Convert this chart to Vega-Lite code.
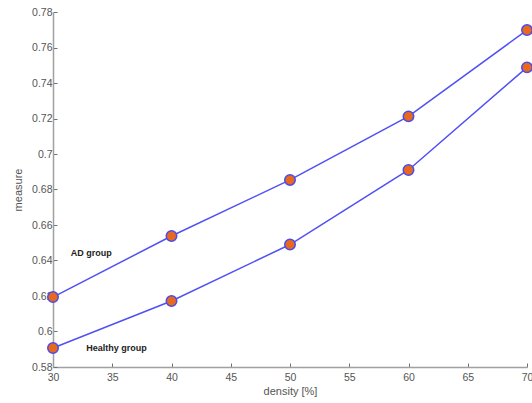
{
  "$schema": "https://vega.github.io/schema/vega-lite/v6.json",
  "width": 474,
  "height": 355,
  "autosize": {"type": "none"},
  "padding": {"left": 53, "top": 12, "right": 5, "bottom": 36},
  "background": "white",
  "config": {
    "view": {"stroke": null},
    "font": "Liberation Sans",
    "axis": {
      "domainColor": "#a0a0a0",
      "domainWidth": 1.5,
      "tickColor": "#707070",
      "tickSize": -4,
      "labelColor": "#555555",
      "labelFont": "Liberation Sans",
      "labelFontSize": 10.5,
      "labelOverlap": false,
      "titleFont": "Liberation Sans",
      "titleFontSize": 11,
      "titleFontWeight": "normal",
      "titleColor": "#555555",
      "grid": false
    },
    "axisQuantitative": {"labelOverlap": false}
  },
  "datasets": {
    "lines": [
      {"density": 30, "measure": 0.6194, "group": "AD group"},
      {"density": 40, "measure": 0.6538, "group": "AD group"},
      {"density": 50, "measure": 0.6854, "group": "AD group"},
      {"density": 60, "measure": 0.7212, "group": "AD group"},
      {"density": 70, "measure": 0.7698, "group": "AD group"},
      {"density": 30, "measure": 0.5907, "group": "Healthy group"},
      {"density": 40, "measure": 0.6172, "group": "Healthy group"},
      {"density": 50, "measure": 0.6490, "group": "Healthy group"},
      {"density": 60, "measure": 0.6910, "group": "Healthy group"},
      {"density": 70, "measure": 0.7488, "group": "Healthy group"}
    ],
    "labels": [
      {"density": 31.5, "measure": 0.6445, "label": "AD group"},
      {"density": 32.8, "measure": 0.5907, "label": "Healthy group"}
    ]
  },
  "data": {"name": "lines"},
  "encoding": {
    "x": {
      "field": "density", "type": "quantitative",
      "scale": {"domain": [30, 70], "nice": false},
      "axis": {"title": "density [%]", "values": [30, 35, 40, 45, 50, 55, 60, 65, 70], "labelPadding": 9, "titlePadding": 3, "labelFlush": false, "labelOverlap": false, "labelBound": false}
    },
    "y": {
      "field": "measure", "type": "quantitative",
      "scale": {"domain": [0.58, 0.78], "nice": false, "zero": false},
      "axis": {"title": "measure", "values": [0.58, 0.6, 0.62, 0.64, 0.66, 0.68, 0.7, 0.72, 0.74, 0.76, 0.78], "format": "~g", "labelPadding": 5, "titlePadding": 8, "labelFlush": false, "labelOverlap": false, "labelBound": false}
    }
  },
  "layer": [
    {
      "mark": {"type": "line", "color": "#5050F5", "strokeWidth": 1.5, "clip": false},
      "encoding": {"detail": {"field": "group"}}
    },
    {
      "mark": {"type": "point", "filled": true, "fill": "#E8691C", "stroke": "#4B4BEE", "strokeWidth": 1.5, "opacity": 1, "size": 110, "clip": false}
    },
    {
      "data": {"name": "labels"},
      "mark": {"type": "text", "align": "left", "baseline": "middle", "fontWeight": "bold", "fontSize": 9, "color": "#222222", "font": "Liberation Sans"},
      "encoding": {"text": {"field": "label"}}
    }
  ]
}
